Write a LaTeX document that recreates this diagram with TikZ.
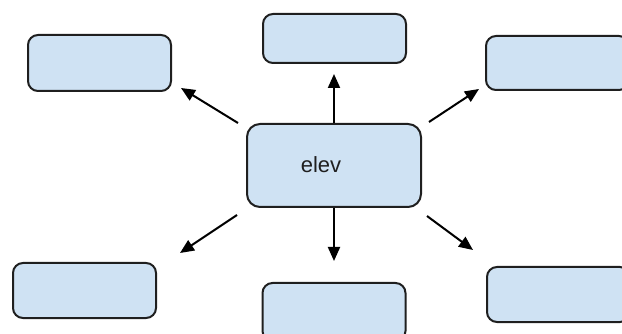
\documentclass[tikz,border=0pt]{standalone}
\usepackage{fontspec}
\setmainfont{Liberation Sans}
\usetikzlibrary{arrows.meta,calc}
\definecolor{boxfill}{HTML}{CFE2F3}
\definecolor{boxline}{HTML}{1F1F1F}
\begin{document}
\begin{tikzpicture}[x=1pt,y=-1pt,
  box/.style={draw=boxline,fill=boxfill,line width=2pt,rounded corners=10pt,inner sep=0pt,minimum width=143pt},
  arr/.style={draw=black,line width=2pt,-{Triangle[length=14pt,width=12pt]}}]
\useasboundingbox (0,0) rectangle (622,334);
\clip (0,0) rectangle (622,334);
\node[box,minimum height=56pt] (tl) at (99.5,63) {};
\node[box,minimum height=49pt] (tc) at (334.5,38.5) {};
\node[box,minimum height=54pt] (tr) at (557.5,63) {};
\node[box,minimum width=174pt,minimum height=83pt,rounded corners=13pt] (c) at (334,165.5) {};
\node[box,minimum height=55pt] (bl) at (84.5,290.5) {};
\node[box,minimum height=58pt] (bc) at (334,312) {};
\node[box,minimum height=55pt] (br) at (558.5,294.5) {};
\node[anchor=base,font=\fontsize{22}{26}\selectfont,text=boxline,inner sep=0pt] (t) at (321,173) {elev};
\draw[arr] ($(c.north west)+(-8,0)$) -- ($(tl.south east)+(9,-4)$);
\draw[arr] (c.north) -- ($(c.north |- tc.south)+(0,10)$);
\draw[arr] ($(c.north east)+(7,-1)$) -- ($(tr.south west)+(-6,-2)$);
\draw[arr] ($(c.south west)+(-9,7)$) -- ($(bl.north east)+(23,-9)$);
\draw[arr] (c.south) -- ($(c.south |- bc.north)+(0,-21)$);
\draw[arr] ($(c.south east)+(5,8)$) -- ($(br.north west)+(-13,-16)$);
\end{tikzpicture}
\end{document}
